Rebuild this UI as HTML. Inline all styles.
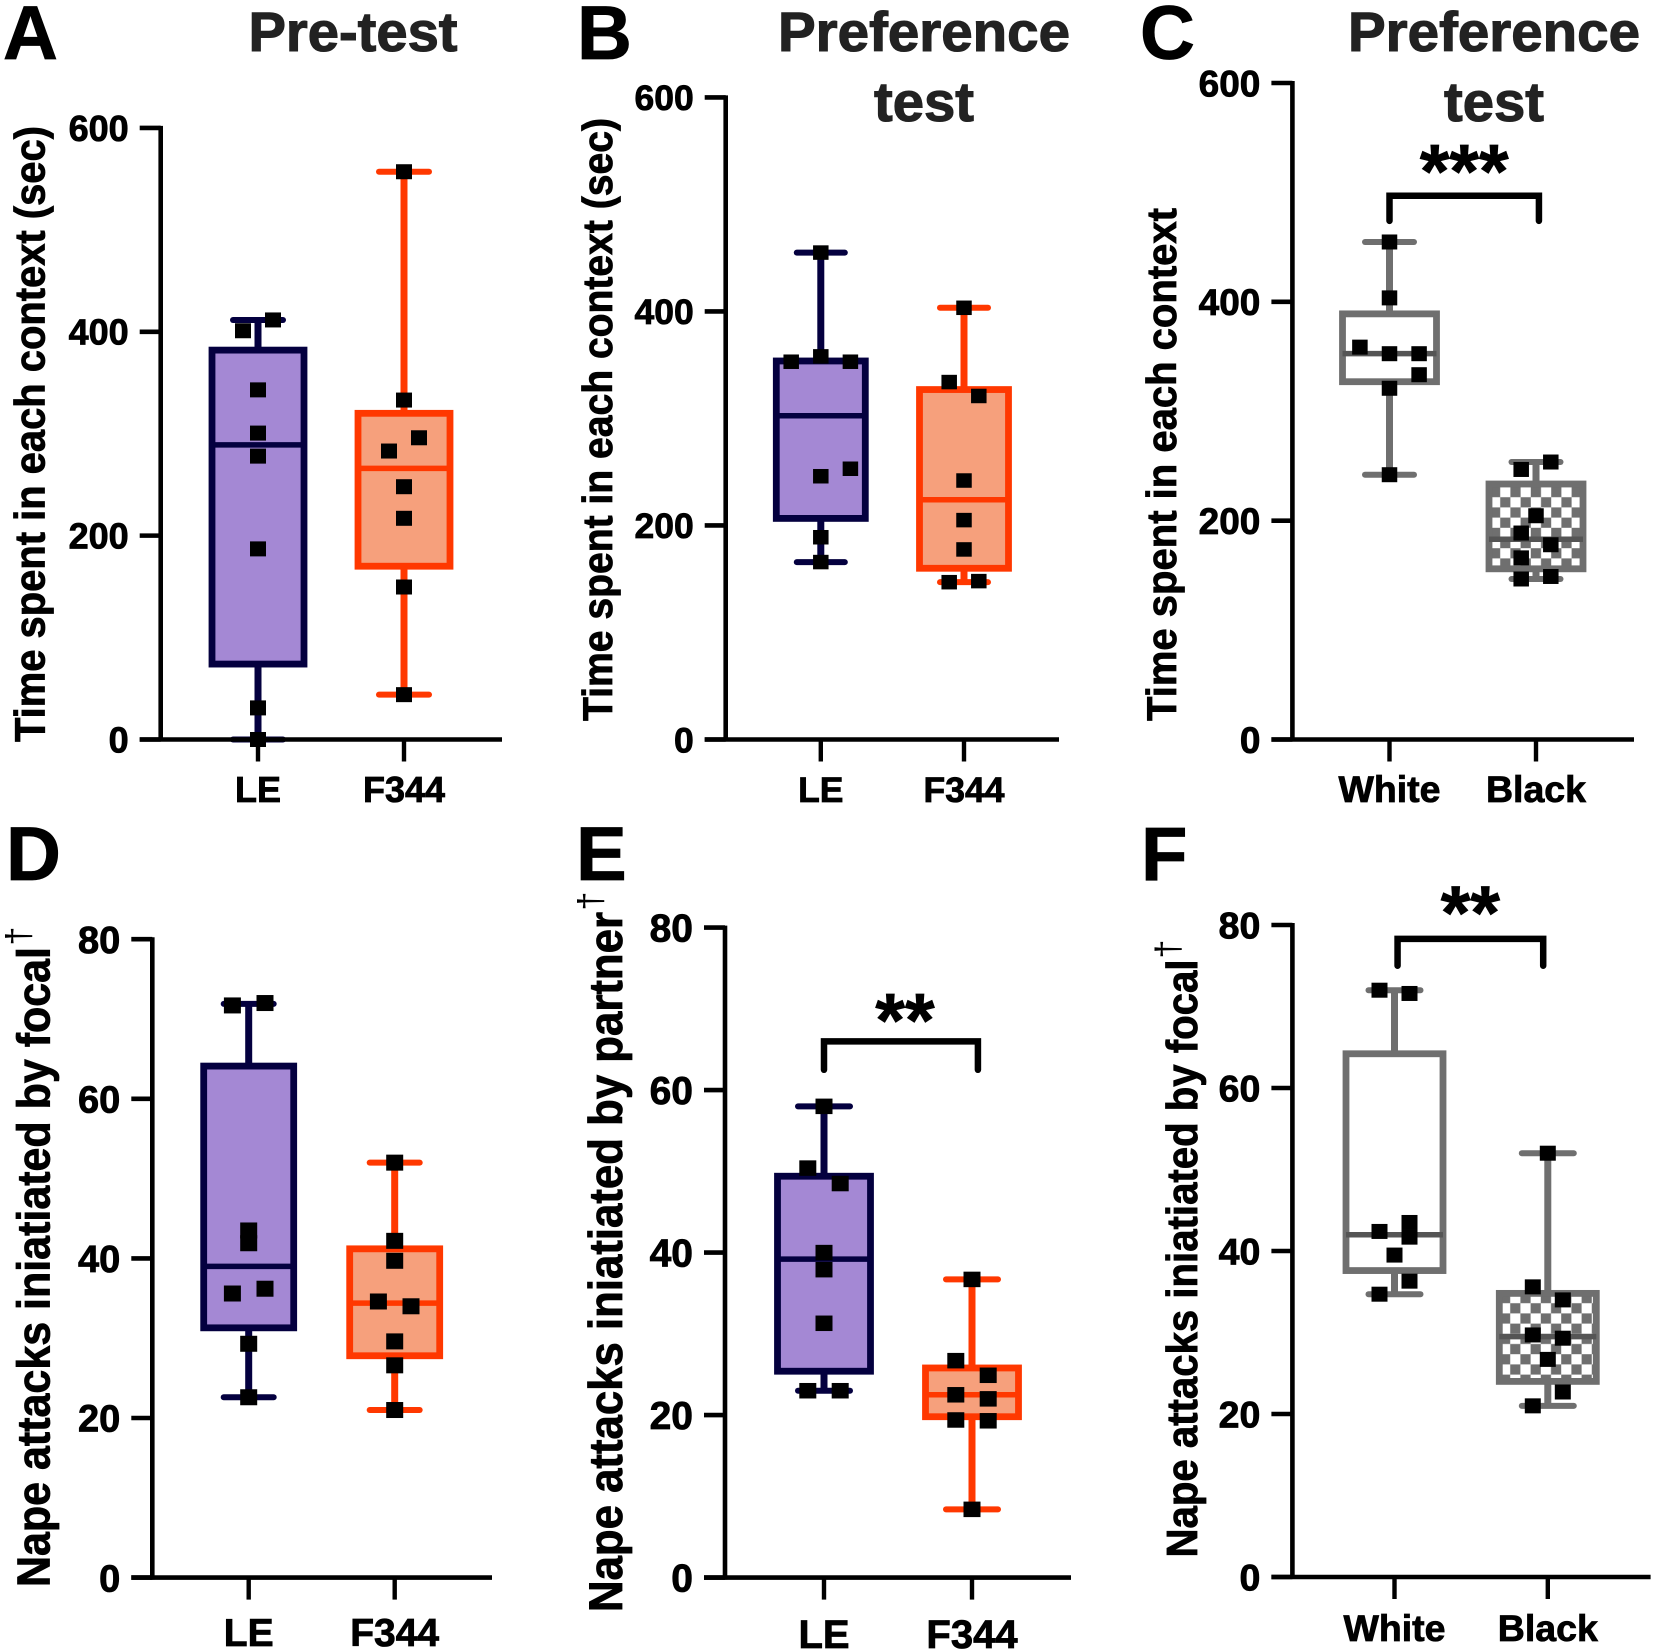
<!DOCTYPE html>
<html lang="en">
<head>
<meta charset="utf-8">
<title>Box plots of context preference and nape attacks</title>
<style>
html,body{margin:0;padding:0;background:#fff;}
body{width:1655px;height:1650px;overflow:hidden;}
svg{display:block;}
text{font-family:"Liberation Sans",Arial,sans-serif;font-weight:700;fill:#000;stroke:#000;stroke-width:0.8px;}
.ttl{fill:#222;stroke:#222;stroke-width:1.1px;}
.thin{font-weight:400;stroke-width:0;}
</style>
</head>
<body>
<svg id="figure" xmlns="http://www.w3.org/2000/svg" width="1655" height="1650" viewBox="0 0 1655 1650">
  <rect x="0" y="0" width="1655" height="1650" fill="#fff"></rect>
  <defs>
    <pattern id="checkC" patternUnits="userSpaceOnUse" width="20.4" height="20.4" x="1490" y="487">
      <rect width="20.4" height="20.4" fill="#fff"></rect>
      <rect width="10.2" height="10.2" fill="#6f6f6f"></rect>
      <rect x="10.2" y="10.2" width="10.2" height="10.2" fill="#6f6f6f"></rect>
    </pattern>
    <pattern id="checkF" patternUnits="userSpaceOnUse" width="20.4" height="20.4" x="1500" y="1293">
      <rect width="20.4" height="20.4" fill="#fff"></rect>
      <rect width="10.2" height="10.2" fill="#6f6f6f"></rect>
      <rect x="10.2" y="10.2" width="10.2" height="10.2" fill="#6f6f6f"></rect>
    </pattern>
  </defs>

  <text x="3" y="59" font-size="76">A</text>
  <text x="577" y="59" font-size="76">B</text>
  <text x="1140" y="59" font-size="76">C</text>
  <text x="6" y="880" font-size="76">D</text>
  <text x="576" y="880" font-size="76">E</text>
  <text x="1141" y="880" font-size="76">F</text>

  <text class="ttl" x="353" y="51" font-size="56" text-anchor="middle" textLength="209" lengthAdjust="spacingAndGlyphs">Pre-test</text>
  <text class="ttl" x="924" y="51" font-size="56" text-anchor="middle" textLength="292" lengthAdjust="spacingAndGlyphs">Preference</text>
  <text class="ttl" x="924" y="121" font-size="56" text-anchor="middle" textLength="100" lengthAdjust="spacingAndGlyphs">test</text>
  <text class="ttl" x="1494" y="51" font-size="56" text-anchor="middle" textLength="292" lengthAdjust="spacingAndGlyphs">Preference</text>
  <text class="ttl" x="1494" y="121" font-size="56" text-anchor="middle" textLength="100" lengthAdjust="spacingAndGlyphs">test</text>

  <text transform="translate(44.5 742) rotate(-90)" font-size="43" textLength="616" lengthAdjust="spacingAndGlyphs">Time spent in each context (sec)</text>
  <text transform="translate(612 721) rotate(-90)" font-size="42" textLength="603" lengthAdjust="spacingAndGlyphs">Time spent in each context (sec)</text>
  <text transform="translate(1176 721) rotate(-90)" font-size="42" textLength="513" lengthAdjust="spacingAndGlyphs">Time spent in each context</text>
  <text transform="translate(49.5 1587) rotate(-90)" font-size="46" textLength="640" lengthAdjust="spacingAndGlyphs">Nape attacks iniatiated by focal</text>
  <text transform="translate(622 1612) rotate(-90)" font-size="47" textLength="700" lengthAdjust="spacingAndGlyphs">Nape attacks iniatiated by partner</text>
  <text transform="translate(1197 1557.5) rotate(-90)" font-size="44" textLength="598" lengthAdjust="spacingAndGlyphs">Nape attacks iniatiated by focal</text>

  <text class="thin" transform="translate(30 936) rotate(-90)" font-size="34" text-anchor="middle">†</text>
  <text class="thin" transform="translate(602 901) rotate(-90)" font-size="34" text-anchor="middle">†</text>
  <text class="thin" transform="translate(1179.5 949) rotate(-90)" font-size="34" text-anchor="middle">†</text>

  <g id="plots"></g>
</svg>

<script>
// Shared tick labels and categories
const strainCategories = ['LE', 'F344'];
const contextCategories = ['White', 'Black'];
const timeTicks = [0, 200, 400, 600];
const attackTicks = [0, 20, 40, 60, 80];

// Box statistics are [min, q1, median, q3, max]; slots are swarm columns
// Panel A
const aLeBox = [0, 74, 289, 382, 411.6];
const aLePoints = [411.6, 401, 343, 300.6, 278, 187, 31, 0];
const aLeSlots = [1, -1, 0, 0, 0, 0, 0, 0];
const aF344Box = [44, 170, 266, 320, 557];
const aF344Points = [557, 333, 296, 283, 248, 217, 149.6, 44];
const aF344Slots = [0, 0, 1, -1, 0, 0, 0, 0];

// Panel B
const bLeBox = [165.8, 206.6, 302.5, 353.7, 455];
const bLePoints = [455, 358, 353, 353, 253, 246, 189, 165.8];
const bLeSlots = [0, 0, -2, 2, 2, 0, 0, 0];
const bF344Box = [147, 160, 224, 327, 403.4];
const bF344Points = [403.4, 334, 321, 242, 205, 177.6, 147, 148];
const bF344Slots = [0, -1, 1, 0, 0, 0, -1, 1];

// Panel C
const cWhiteBox = [242, 327, 352.7, 389, 454.7];
const cWhitePoints = [454.7, 403.6, 358.6, 352.6, 352.6, 333.4, 321, 242];
const cWhiteSlots = [0, 0, -2, 0, 2, 2, 0, 0];
const cBlackBox = [146.7, 156, 183, 233.5, 253.6];
const cBlackPoints = [253.6, 246.8, 204.5, 188.7, 178, 166, 146.7, 149];
const cBlackSlots = [1, -1, 0, -1, 1, -1, -1, 1];
const cBracketValues = [497, 474];
const cBracketCategories = [0, 1.02];

// Panel D
const dLeBox = [22.6, 31.3, 39, 64.1, 71.9];
const dLePoints = [71.7, 72, 43.5, 41.9, 36.2, 35.6, 29.3, 22.6];
const dLeSlots = [-1, 1, 0, 0, 1, -1, 0, 0];
const dF344Box = [21, 27.8, 34.4, 41.2, 52];
const dF344Points = [52, 42.2, 39.7, 34.6, 34, 29.6, 26.6, 21];
const dF344Slots = [0, 0, 0, -1, 1, 0, 0, 0];

// Panel E
const eLeBox = [23, 25.4, 39.2, 49.4, 58];
const eLePoints = [58, 50.4, 48.5, 40, 37.9, 31.3, 23, 23];
const eLeSlots = [0, -1, 1, 0, 0, 0, -1, 1];
const eF344Box = [8.4, 19.8, 22.5, 25.8, 36.7];
const eF344Points = [36.7, 26.7, 24.9, 22.5, 22, 19.4, 19.3, 8.4];
const eF344Slots = [0, -1, 1, -1, 1, -1, 1, 0];
const eBracketValues = [66, 62.5];
const eBracketCategories = [0, 1.04];

// Panel F
const fWhiteBox = [34.7, 37.6, 42, 64.2, 72];
const fWhitePoints = [72, 71.6, 43.5, 42.4, 41.7, 39.5, 36.3, 34.7];
const fWhiteSlots = [-1, 1, 1, -1, 1, 0, 1, -1];
const fBlackBox = [21, 24, 29.5, 34.8, 52];
const fBlackPoints = [52, 35.6, 34, 29.7, 29.3, 26.7, 22.7, 21];
const fBlackSlots = [0, -1, 1, -1, 1, 0, 1, -1];
const fBracketValues = [78.3, 75];
const fBracketCategories = [0.02, 0.97];

const SVG_NS = 'http://www.w3.org/2000/svg';
const plotsRoot = document.getElementById('plots');

const purpleStyle = {stroke: '#04003f', fill: '#a488d4', median: '#04003f'};
const orangeStyle = {stroke: '#ff3800', fill: '#f6a07c', median: '#ff3800'};
const plainStyle = {stroke: '#6f6f6f', fill: '#ffffff', median: '#555555'};

function shape(parent, tag, attrs, name) {
  const el = document.createElementNS(SVG_NS, tag);
  Object.keys(attrs).forEach(function (k) { el.setAttribute(k, attrs[k]); });
  
  
  parent.appendChild(el);
  return el;
}

function drawPanel(p) {
  const g = shape(plotsRoot, 'g', {}, 'panel-' + p.id);
  const yMax = p.yTicks[p.yTicks.length - 1];
  const y = function (v) { return p.y0 - (v / yMax) * (p.y0 - p.yTop); };
  const x = function (i) { return p.cat0 + i * p.catStep; };

  // Boxes, whiskers, caps
  p.series.forEach(function (s, i) {
    const cx = x(i);
    const b = s.box;
    const st = s.style;
    const tag = p.id + '-' + p.categories[i].toLowerCase();
    shape(g, 'line', {x1: cx, x2: cx, y1: y(b[4]), y2: y(b[3]), stroke: st.stroke, 'stroke-width': 7}, 'upper-whisker-' + tag);
    shape(g, 'line', {x1: cx, x2: cx, y1: y(b[1]), y2: y(b[0]), stroke: st.stroke, 'stroke-width': 7}, 'lower-whisker-' + tag);
    shape(g, 'line', {x1: cx - p.capHalf, x2: cx + p.capHalf, y1: y(b[4]), y2: y(b[4]), stroke: st.stroke, 'stroke-width': 6, 'stroke-linecap': 'round'}, 'upper-cap-' + tag);
    shape(g, 'line', {x1: cx - p.capHalf, x2: cx + p.capHalf, y1: y(b[0]), y2: y(b[0]), stroke: st.stroke, 'stroke-width': 6, 'stroke-linecap': 'round'}, 'lower-cap-' + tag);
    shape(g, 'rect', {x: cx - p.boxHalf, y: y(b[3]), width: p.boxHalf * 2, height: y(b[1]) - y(b[3]), fill: s.fill || st.fill, stroke: st.stroke, 'stroke-width': 6.8}, 'box-' + tag);
    shape(g, 'line', {x1: cx - p.boxHalf, x2: cx + p.boxHalf, y1: y(b[2]), y2: y(b[2]), stroke: st.median, 'stroke-width': 5.5}, 'median-' + tag);
  });

  // Axes
  shape(g, 'line', {x1: p.axisX, x2: p.axisX, y1: p.yTop - 2, y2: p.y0 + 2, stroke: '#000', 'stroke-width': 4.6}, 'y-axis-' + p.id);
  shape(g, 'line', {x1: p.axisX - 21, x2: p.xEnd, y1: p.y0, y2: p.y0, stroke: '#000', 'stroke-width': 4.6}, 'x-axis-' + p.id);
  p.yTicks.forEach(function (t) {
    shape(g, 'line', {x1: p.axisX - 21, x2: p.axisX, y1: y(t), y2: y(t), stroke: '#000', 'stroke-width': 4.6}, 'y-tick-' + p.id + '-' + t);
    const lab = shape(g, 'text', {x: p.axisX - 32, y: y(t) + p.tickSize * 0.36, 'font-size': p.tickSize, 'text-anchor': 'end'}, 'y-tick-label-' + p.id + '-' + t);
    lab.textContent = String(t);
  });
  p.categories.forEach(function (c, i) {
    shape(g, 'line', {x1: x(i), x2: x(i), y1: p.y0, y2: p.y0 + 22, stroke: '#000', 'stroke-width': 4.4}, 'x-tick-' + p.id + '-' + c.toLowerCase());
    const lab = shape(g, 'text', {x: x(i), y: p.catBaseline, 'font-size': p.catSize, 'text-anchor': 'middle'}, 'x-tick-label-' + p.id + '-' + c.toLowerCase());
    lab.textContent = c;
  });

  // Data points
  p.series.forEach(function (s, i) {
    s.points.forEach(function (v, j) {
      const px = x(i) + s.slots[j] * p.slotPx;
      shape(g, 'rect', {x: px - p.markW / 2, y: y(v) - p.markH / 2, width: p.markW, height: p.markH, fill: '#000'}, 'point-' + p.id + '-' + p.categories[i].toLowerCase() + '-' + j);
    });
  });

  // Significance bracket
  if (p.bracket) {
    const bx1 = x(p.bracket.span[0]);
    const bx2 = x(p.bracket.span[1]);
    const by = y(p.bracket.values[0]);
    const be = y(p.bracket.values[1]);
    shape(g, 'path', {d: 'M' + bx1 + ' ' + be + 'V' + by + 'H' + bx2 + 'V' + be, fill: 'none', stroke: '#000', 'stroke-width': 6.5, 'stroke-linecap': 'round', 'stroke-linejoin': 'miter'}, 'significance-bracket-' + p.id);
    const star = shape(g, 'text', {x: (bx1 + bx2) / 2 + p.bracket.starDx, y: by + p.bracket.starDy, 'font-size': 76, 'text-anchor': 'middle'}, 'significance-stars-' + p.id);
    star.textContent = p.bracket.stars;
  }
}

drawPanel({id: 'a', categories: strainCategories, yTicks: timeTicks, y0: 739.5, yTop: 127.9, axisX: 160.7, xEnd: 502, cat0: 258, catStep: 146, boxHalf: 46, capHalf: 25, slotPx: 15, markW: 16, markH: 15, tickSize: 36, catSize: 36, catBaseline: 802,
  series: [{box: aLeBox, points: aLePoints, slots: aLeSlots, style: purpleStyle}, {box: aF344Box, points: aF344Points, slots: aF344Slots, style: orangeStyle}]});

drawPanel({id: 'b', categories: strainCategories, yTicks: timeTicks, y0: 739.5, yTop: 97.4, axisX: 725.7, xEnd: 1059, cat0: 820.8, catStep: 143.2, boxHalf: 44.5, capHalf: 24, slotPx: 14.8, markW: 15.5, markH: 14.5, tickSize: 35.5, catSize: 35.5, catBaseline: 802,
  series: [{box: bLeBox, points: bLePoints, slots: bLeSlots, style: purpleStyle}, {box: bF344Box, points: bF344Points, slots: bF344Slots, style: orangeStyle}]});

drawPanel({id: 'c', categories: contextCategories, yTicks: timeTicks, y0: 739.5, yTop: 83, axisX: 1292.4, xEnd: 1634, cat0: 1389.5, catStep: 146.5, boxHalf: 47, capHalf: 24.5, slotPx: 14.8, markW: 15.5, markH: 15, tickSize: 37, catSize: 37.5, catBaseline: 802,
  bracket: {values: cBracketValues, span: cBracketCategories, stars: '***', starDx: 0, starDy: 2},
  series: [{box: cWhiteBox, points: cWhitePoints, slots: cWhiteSlots, style: plainStyle}, {box: cBlackBox, points: cBlackPoints, slots: cBlackSlots, style: plainStyle, fill: 'url(#checkC)'}]});

drawPanel({id: 'd', categories: strainCategories, yTicks: attackTicks, y0: 1577.6, yTop: 939.2, axisX: 152.3, xEnd: 492, cat0: 248.7, catStep: 146, boxHalf: 45, capHalf: 25, slotPx: 16.3, markW: 17, markH: 16, tickSize: 38, catSize: 39, catBaseline: 1646,
  series: [{box: dLeBox, points: dLePoints, slots: dLeSlots, style: purpleStyle}, {box: dF344Box, points: dF344Points, slots: dF344Slots, style: orangeStyle}]});

drawPanel({id: 'e', categories: strainCategories, yTicks: attackTicks, y0: 1577.6, yTop: 927.6, axisX: 725, xEnd: 1071, cat0: 824, catStep: 148, boxHalf: 46.5, capHalf: 26, slotPx: 16.2, markW: 17, markH: 15.5, tickSize: 39, catSize: 40, catBaseline: 1648,
  bracket: {values: eBracketValues, span: eBracketCategories, stars: '**', starDx: 4, starDy: 5},
  series: [{box: eLeBox, points: eLePoints, slots: eLeSlots, style: purpleStyle}, {box: eF344Box, points: eF344Points, slots: eF344Slots, style: orangeStyle}]});

drawPanel({id: 'f', categories: contextCategories, yTicks: attackTicks, y0: 1577, yTop: 925, axisX: 1292.4, xEnd: 1650.6, cat0: 1394.5, catStep: 153.3, boxHalf: 48.5, capHalf: 26, slotPx: 15, markW: 16, markH: 15, tickSize: 37.5, catSize: 37.5, catBaseline: 1641,
  bracket: {values: fBracketValues, span: fBracketCategories, stars: '**', starDx: 0, starDy: 0},
  series: [{box: fWhiteBox, points: fWhitePoints, slots: fWhiteSlots, style: plainStyle}, {box: fBlackBox, points: fBlackPoints, slots: fBlackSlots, style: plainStyle, fill: 'url(#checkF)'}]});
</script>
</body>
</html>
